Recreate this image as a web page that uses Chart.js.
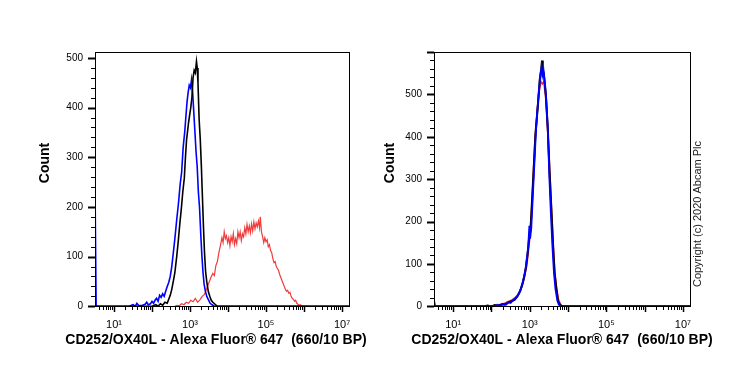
<!DOCTYPE html>
<html>
<head>
<meta charset="utf-8">
<script src="https://cdn.jsdelivr.net/npm/chart.js@4"></script>
<style>
  html, body { margin: 0; padding: 0; background: #fff; }
  #wrap { position: relative; width: 739px; height: 370px; }
  .panel { position: absolute; top: 0; height: 370px; }
</style>
</head>
<body>
<div id="wrap">
  <div class="panel" style="left:0;width:370px"><canvas id="left"></canvas></div>
  <div class="panel" style="left:370px;width:369px"><canvas id="right"></canvas></div>
</div>
<script>
// axis texts
var xTitle = 'CD252/OX40L - Alexa Fluor® 647  (660/10 BP)';
var yTitle = 'Count';
var copyright = 'Copyright (c) 2020 Abcam Plc';
var xTickValues = [1e1, 1e3, 1e5, 1e7];
var xTickText = ['10¹', '10³', '10⁵', '10⁷'];
var leftYTicks = [0, 100, 200, 300, 400, 500];
var rightYTicks = [0, 100, 200, 300, 400, 500];

// left panel - channel position (log10) and count
var leftRedExp = [2.60, 2.66, 2.72, 2.78, 2.84, 2.90, 2.96, 3.02, 3.08, 3.14, 3.20, 3.26, 3.32, 3.38, 3.44, 3.50, 3.55, 3.60, 3.64, 3.68,
  3.72, 3.76, 3.80, 3.84, 3.87, 3.90, 3.93, 3.96, 3.99, 4.02, 4.05, 4.08, 4.11, 4.14, 4.17, 4.20, 4.23, 4.26, 4.29, 4.32,
  4.35, 4.38, 4.41, 4.44, 4.47, 4.50, 4.53, 4.56, 4.59, 4.62, 4.65, 4.68, 4.71, 4.74, 4.77, 4.80, 4.83, 4.85, 4.88, 4.91,
  4.94, 4.97, 5.00, 5.03, 5.06, 5.09, 5.12, 5.15, 5.18, 5.21, 5.24, 5.27, 5.30, 5.33, 5.36, 5.39, 5.42, 5.45, 5.48, 5.51,
  5.54, 5.57, 5.60, 5.63, 5.66, 5.69, 5.72, 5.75, 5.78, 5.81, 5.84, 5.87, 5.90, 5.95, 6.10];
var leftRedCount = [0, 2, 1, 5, 3, 8, 6, 12, 9, 16, 8, 13, 20, 24, 36, 48, 58, 66, 62, 82,
  90, 108, 122, 138, 128, 150, 136, 142, 128, 138, 122, 140, 130, 146, 124, 136, 126, 150, 138, 150,
  132, 146, 140, 158, 146, 165, 150, 162, 148, 166, 152, 170, 156, 168, 160, 172, 158, 180, 150, 140,
  128, 138, 130, 134, 120, 124, 112, 108, 96, 88, 90, 80, 76, 72, 64, 58, 52, 46, 40, 34,
  30, 32, 26, 28, 20, 16, 14, 10, 12, 6, 4, 2, 3, 0, 0];

var leftBlueExp = [0.50, 0.53, 1.40, 1.50, 1.56, 1.60, 1.66, 1.75, 1.82, 1.86, 1.90, 1.96, 2.00, 2.04, 2.08, 2.12, 2.16, 2.20, 2.24, 2.28,
  2.32, 2.36, 2.40, 2.44, 2.48, 2.52, 2.56, 2.60, 2.65, 2.70, 2.74, 2.78, 2.82, 2.86, 2.89, 2.92, 2.95, 2.98, 3.01, 3.04,
  3.07, 3.10, 3.13, 3.16, 3.19, 3.22, 3.25, 3.28, 3.31, 3.34, 3.37, 3.40, 3.44, 3.48, 3.53, 3.58, 3.64, 7.30];
var leftBlueCount = [241, 0, 0, 3, 0, 6, 1, 2, 4, 8, 3, 5, 10, 6, 12, 16, 10, 22, 18, 25,
  20, 30, 40, 48, 60, 80, 107, 135, 174, 210, 245, 270, 320, 350, 380, 410, 430, 445, 440, 456,
  430, 390, 350, 310, 280, 230, 200, 150, 105, 70, 45, 32, 20, 14, 6, 3, 0, 0];

var leftBlackExp = [0.50, 2.00, 2.10, 2.16, 2.22, 2.28, 2.34, 2.40, 2.44, 2.48, 2.52, 2.56, 2.60, 2.65, 2.69, 2.73, 2.77, 2.81, 2.85, 2.88,
  2.91, 2.94, 2.96, 2.99, 3.02, 3.05, 3.08, 3.11, 3.14, 3.17, 3.19, 3.21, 3.24, 3.27, 3.30, 3.32, 3.35, 3.38, 3.41, 3.44,
  3.48, 3.52, 3.56, 3.60, 3.66, 3.72, 7.30];
var leftBlackCount = [0, 0, 3, 0, 5, 2, 8, 6, 14, 22, 34, 50, 67, 100, 130, 165, 195, 230, 258, 300,
  336, 355, 369, 385, 400, 420, 460, 475, 470, 493, 480, 450, 376, 336, 280, 235, 168, 110, 70, 50,
  30, 20, 12, 8, 4, 0, 0];

// right panel
var rightRedExp = [0.50, 1.90, 2.05, 2.15, 2.26, 2.36, 2.44, 2.52, 2.61, 2.68, 2.75, 2.80, 2.86, 2.92, 2.96, 3.00, 3.04, 3.09, 3.14, 3.19,
  3.24, 3.29, 3.33, 3.37, 3.42, 3.47, 3.52, 3.57, 3.61, 3.65, 3.70, 3.75, 3.80, 3.85, 7.30];
var rightRedCount = [0, 0, 2, 4, 3, 8, 11, 14, 20, 26, 38, 48, 70, 96, 128, 162, 210, 300, 395, 455,
  505, 530, 525, 530, 490, 415, 320, 225, 150, 82, 42, 16, 5, 0, 0];

var rightBlackExp = [0.50, 1.80, 1.90, 2.00, 2.09, 2.16, 2.26, 2.34, 2.44, 2.52, 2.61, 2.68, 2.75, 2.80, 2.83, 2.86, 2.90, 2.94, 2.98, 3.02,
  3.06, 3.11, 3.15, 3.21, 3.26, 3.30, 3.32, 3.34, 3.37, 3.42, 3.47, 3.52, 3.57, 3.61, 3.65, 3.70, 3.74, 3.79, 3.84, 7.30];
var rightBlackCount = [0, 0, 2, 0, 3, 1, 5, 4, 9, 12, 16, 24, 36, 50, 60, 72, 92, 120, 158, 182,
  250, 338, 408, 470, 534, 560, 580, 560, 548, 500, 422, 312, 218, 140, 78, 38, 12, 4, 0, 0];

var rightBlueExp = [0.50, 0.53, 1.85, 1.95, 2.06, 2.15, 2.24, 2.30, 2.38, 2.44, 2.50, 2.56, 2.61, 2.66, 2.72, 2.77, 2.81, 2.85, 2.89, 2.92,
  2.96, 2.99, 3.01, 3.04, 3.08, 3.12, 3.16, 3.20, 3.25, 3.28, 3.31, 3.33, 3.36, 3.40, 3.43, 3.47, 3.51, 3.55, 3.59, 3.63,
  3.67, 3.72, 3.76, 3.82, 7.30];
var rightBlueCount = [14, 0, 0, 1, 0, 3, 2, 6, 4, 10, 8, 14, 18, 22, 30, 42, 55, 70, 88, 110,
  140, 190, 160, 185, 260, 335, 410, 465, 520, 548, 565, 545, 556, 520, 488, 420, 310, 222, 145, 82,
  42, 14, 4, 0, 0];

var FONT = '"Liberation Sans", Arial, "DejaVu Sans", sans-serif';

function toPoints(exp, counts) {
  return exp.map(function (e, i) { return { x: Math.pow(10, e), y: counts[i] }; });
}

// order: lower numbers are drawn on top
function line(label, color, width, exp, counts, order) {
  return {
    label: label,
    data: toPoints(exp, counts),
    borderColor: color,
    borderWidth: width,
    pointRadius: 0,
    tension: 0,
    fill: false,
    order: order
  };
}

// frame, tick marks and axis titles
var framePlugin = {
  id: 'frame',
  afterDraw: function (chart, args, opts) {
    var ctx = chart.ctx, a = chart.chartArea;
    var xs = chart.scales.x, ys = chart.scales.y;
    ctx.save();
    ctx.strokeStyle = '#000';
    ctx.lineWidth = 1;
    ctx.strokeRect(a.left + 0.5, a.top + 0.5, a.right - a.left - 1, a.bottom - a.top - 1);

    // x: log ticks, long at each decade
    for (var d = 0; d <= 7; d++) {
      for (var m = 1; m <= 9; m++) {
        var v = m * Math.pow(10, d);
        if (v < xs.min || v > xs.max) continue;
        var px = Math.round(xs.getPixelForValue(v)) + 0.5;
        ctx.lineWidth = m === 1 ? 1.5 : 1;
        ctx.beginPath();
        ctx.moveTo(px, a.bottom);
        ctx.lineTo(px, a.bottom + (m === 1 ? 5 : 3));
        ctx.stroke();
      }
    }
    // y: every 20, long at each 100
    for (var c = 0; c <= ys.max; c += 20) {
      var py = Math.round(ys.getPixelForValue(c)) + 0.5;
      var major = c % 100 === 0;
      ctx.lineWidth = major ? 2 : 1;
      ctx.beginPath();
      ctx.moveTo(a.left, py);
      ctx.lineTo(a.left - (major ? 7 : 4), py);
      ctx.stroke();
    }

    ctx.fillStyle = '#000';
    ctx.textAlign = 'center';
    ctx.textBaseline = 'middle';
    ctx.font = 'bold 14px ' + FONT;
    ctx.fillText(xTitle, opts.titleX, 340);

    ctx.save();
    ctx.translate(opts.countX, 163);
    ctx.rotate(-Math.PI / 2);
    ctx.fillText(yTitle, 0, 0);
    ctx.restore();

    if (opts.copyright) {
      ctx.save();
      ctx.fillStyle = '#222';
      ctx.font = '11px ' + FONT;
      ctx.translate(opts.copyX, 214);
      ctx.rotate(-Math.PI / 2);
      ctx.fillText(copyright, 0, 0);
      ctx.restore();
    }
    ctx.restore();
  }
};

function makeChart(id, datasets, yMax, yTicks, yWidth, padRight, frameOpts) {
  return new Chart(document.getElementById(id), {
    type: 'line',
    data: { datasets: datasets },
    options: {
      responsive: true,
      maintainAspectRatio: false,
      animation: false,
      layout: { padding: { left: 0, right: padRight, top: 52, bottom: 0 } },
      plugins: {
        legend: { display: false },
        tooltip: { enabled: false },
        frame: frameOpts
      },
      scales: {
        x: {
          type: 'logarithmic',
          min: Math.pow(10, 0.5),
          max: Math.pow(10, 7.21),
          grid: { display: false, drawTicks: false },
          border: { display: false },
          afterBuildTicks: function (s) {
            s.ticks = xTickValues.map(function (v) { return { value: v }; });
          },
          afterFit: function (s) { s.height = 63; },
          ticks: {
            autoSkip: false,
            maxRotation: 0,
            minRotation: 0,
            padding: 11,
            color: '#000',
            font: { family: FONT, size: 11 },
            callback: function (v) {
              var i = xTickValues.indexOf(v);
              return i < 0 ? '' : xTickText[i];
            }
          }
        },
        y: {
          type: 'linear',
          min: -1.5,
          max: yMax,
          grid: { display: false, drawTicks: false },
          border: { display: false },
          afterBuildTicks: function (s) {
            s.ticks = yTicks.map(function (v) { return { value: v }; });
          },
          afterFit: function (s) { s.width = yWidth; },
          ticks: {
            padding: 12,
            color: '#000',
            font: { family: FONT, size: 10 },
            callback: function (v) { return String(v); }
          }
        }
      }
    },
    plugins: [framePlugin]
  });
}

makeChart('left', [
  line('Positive', '#f03c3c', 1.2, leftRedExp, leftRedCount, 3),
  line('Isotype', '#0000ff', 1.6, leftBlueExp, leftBlueCount, 2),
  line('Unstained', '#000000', 1.6, leftBlackExp, leftBlackCount, 1)
], 512, leftYTicks, 95, 20, { titleX: 216, countX: 45 });

makeChart('right', [
  line('Positive', '#f03c3c', 1.8, rightRedExp, rightRedCount, 3),
  line('Unstained', '#000000', 2, rightBlackExp, rightBlackCount, 2),
  line('Isotype', '#0000ff', 1.8, rightBlueExp, rightBlueCount, 1)
], 600, rightYTicks, 64, 48, { titleX: 192, countX: 20, copyright: true, copyX: 328 });
</script>
</body>
</html>
